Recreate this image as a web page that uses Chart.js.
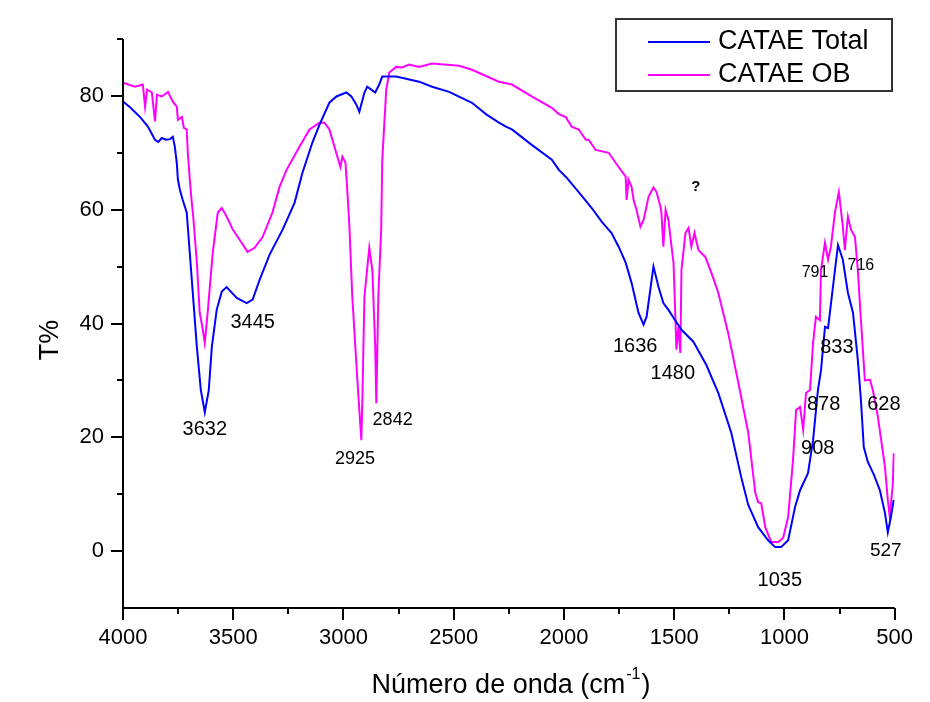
<!DOCTYPE html>
<html>
<head>
<meta charset="utf-8">
<title>CATAE FTIR</title>
<script src="https://cdn.jsdelivr.net/npm/chart.js@4.4.1/dist/chart.umd.min.js"></script>
<style>
    html, body { margin: 0; padding: 0; background: #fff; }
    canvas { display: block; }
</style>
</head>
<body>
<canvas id="ftirChart" width="930" height="702"></canvas>
<script>
// series names
const seriesNames = ['CATAE Total', 'CATAE OB'];

// CATAE Total (blue) - wavenumber / transmittance
const totalWavenumber = [4000, 3968, 3923, 3887, 3855, 3840, 3824, 3805, 3787, 3774, 3765, 3756, 3751, 3742, 3729, 3711, 3706, 3688, 3665, 3647,
    3629, 3611, 3597, 3575, 3552, 3530, 3484, 3439, 3412, 3380, 3335, 3276, 3222, 3186, 3141, 3109, 3064, 3032, 2987, 2964,
    2942, 2928, 2905, 2892, 2874, 2856, 2838, 2824, 2761, 2657, 2598, 2521, 2417, 2354, 2295, 2263, 2236, 2146, 2055, 2023,
    1992, 1933, 1874, 1829, 1784, 1752, 1720, 1693, 1662, 1639, 1625, 1594, 1571, 1549, 1526, 1503, 1467, 1413, 1354, 1300,
    1241, 1196, 1164, 1119, 1074, 1042, 1015, 983, 952, 929, 893, 870, 848, 834, 816, 802, 780, 757, 735, 712,
    689, 667, 653, 640, 622, 594, 567, 544, 531, 517, 504];
const totalT = [79.0, 78.0, 76.3, 74.6, 72.3, 71.9, 72.6, 72.3, 72.4, 72.8, 71.1, 68.2, 65.3, 63.5, 61.7, 59.5, 57.0, 47.7, 35.9, 28.3,
    24.4, 28.3, 35.9, 42.4, 45.6, 46.4, 44.5, 43.6, 44.2, 47.7, 52.1, 56.5, 61.2, 66.5, 71.8, 74.9, 78.8, 79.9, 80.6, 79.9,
    78.5, 77.2, 80.6, 81.6, 81.1, 80.6, 82.0, 83.4, 83.4, 82.5, 81.6, 80.7, 78.8, 76.8, 75.3, 74.6, 74.1, 71.4, 68.8, 67.0,
    65.8, 63.1, 60.3, 57.9, 55.9, 53.5, 50.7, 47.1, 41.9, 39.8, 41.2, 50.0, 46.4, 43.6, 42.4, 41.0, 38.9, 36.8, 32.7, 27.8,
    20.8, 13.0, 8.1, 4.2, 1.9, 0.7, 0.7, 1.9, 7.7, 10.7, 13.7, 19.5, 28.3, 31.8, 39.4, 39.2, 46.4, 53.8, 51.2, 45.4,
    41.9, 33.6, 26.6, 18.3, 15.7, 13.4, 10.7, 6.7, 3.3, 6.0, 9.0];

// CATAE OB (magenta) - wavenumber / transmittance
const obWavenumber = [4000, 3946, 3910, 3900, 3891, 3869, 3855, 3846, 3824, 3796, 3774, 3756, 3751, 3733, 3724, 3711, 3706, 3697, 3688, 3683,
    3665, 3652, 3638, 3629, 3616, 3593, 3570, 3552, 3530, 3502, 3462, 3435, 3403, 3367, 3322, 3290, 3258, 3199, 3154, 3109,
    3086, 3064, 3041, 3014, 3005, 2991, 2982, 2973, 2960, 2937, 2919, 2914, 2905, 2883, 2869, 2856, 2851, 2842, 2829, 2824,
    2806, 2792, 2761, 2734, 2702, 2657, 2598, 2476, 2417, 2295, 2236, 2146, 2055, 2023, 1992, 1965, 1933, 1901, 1888, 1856,
    1797, 1752, 1720, 1716, 1707, 1693, 1684, 1671, 1653, 1639, 1616, 1594, 1580, 1562, 1558, 1549, 1539, 1526, 1512, 1503,
    1494, 1490, 1481, 1472, 1467, 1449, 1435, 1422, 1408, 1390, 1359, 1331, 1300, 1255, 1209, 1164, 1132, 1119, 1105, 1087,
    1060, 1028, 1006, 983, 961, 947, 929, 915, 902, 884, 870, 857, 839, 834, 816, 802, 789, 771, 753, 735,
    726, 712, 698, 680, 667, 653, 635, 612, 599, 576, 544, 531, 522, 508, 504];
const obT = [82.3, 81.6, 82.0, 78.1, 81.1, 80.6, 75.5, 80.2, 79.9, 80.7, 79.0, 78.1, 75.8, 76.3, 74.4, 74.1, 70.0, 65.3, 61.2, 59.5,
    50.7, 41.9, 38.9, 36.6, 41.9, 52.4, 59.5, 60.3, 58.8, 56.5, 54.2, 52.6, 53.3, 55.2, 59.5, 64.0, 67.0, 71.1, 74.1, 75.3,
    75.3, 74.1, 71.1, 67.5, 69.3, 68.3, 63.0, 57.0, 44.7, 30.1, 19.5, 27.1, 44.7, 53.3, 49.4, 35.9, 26.0, 44.7, 56.5, 68.8,
    81.1, 84.1, 85.1, 85.0, 85.5, 85.1, 85.7, 85.3, 84.6, 82.5, 82.0, 79.9, 77.9, 76.8, 76.3, 74.6, 74.1, 72.3, 72.3, 70.5,
    70.0, 67.5, 65.8, 61.7, 65.3, 64.0, 61.7, 60.0, 57.0, 58.2, 62.3, 63.9, 63.1, 60.5, 59.5, 53.5, 60.0, 58.2, 53.5, 50.7,
    40.6, 35.4, 39.4, 34.8, 49.4, 55.9, 56.8, 53.5, 55.9, 52.9, 51.7, 48.9, 45.4, 38.3, 29.6, 20.8, 10.2, 8.6, 8.4, 4.2,
    1.6, 1.6, 2.3, 6.0, 16.0, 24.8, 25.3, 21.3, 27.8, 28.3, 36.6, 41.2, 40.6, 49.4, 54.2, 51.2, 53.5, 59.5, 63.1, 57.0,
    52.9, 58.8, 56.5, 55.2, 49.4, 40.6, 30.0, 30.1, 28.3, 23.6, 14.8, 9.0, 6.0, 12.0, 17.2];

// peak annotations (text, wavenumber, T%)
const peakLabels = ['3632', '3445', '2925', '2842', '1636', '1480', '?', '791', '716', '833', '878', '908', '628', '527', '1035'];
const peakX = [3629, 3412, 2948, 2777, 1677, 1506, 1402, 861, 653, 762, 822, 849, 549, 540, 1021];
const peakY = [21.3, 40.2, 16.2, 23.1, 35.9, 31.3, 64.1, 49.0, 50.2, 35.7, 25.8, 18.1, 25.8, 0.1, -5.1];

// axis ticks
const xTickValues = [4000, 3500, 3000, 2500, 2000, 1500, 1000, 500];
const yTickValues = [0, 20, 40, 60, 80];

const FONT = '"Liberation Sans", Arial, Helvetica, sans-serif';
const seriesColors = ['#0000ff', '#ff00ff'];

function toPoints(xs, ys) {
    return xs.map((x, i) => ({ x: x, y: ys[i] }));
}

// axes, ticks, titles, notes and legend
const decorations = {
    id: 'decorations',
    afterDraw(chart) {
        const ctx = chart.ctx;
        const xs = chart.scales.x;
        const ys = chart.scales.y;
        const area = chart.chartArea;
        ctx.save();
        ctx.strokeStyle = '#000';
        ctx.lineWidth = 2;
        ctx.beginPath();
        ctx.moveTo(area.left, area.top);
        ctx.lineTo(area.left, area.bottom + 1);
        ctx.moveTo(area.left - 1, area.bottom);
        ctx.lineTo(area.right, area.bottom);
        // y ticks (major every 20, minor between)
        for (let v = 0; v <= 90; v += 10) {
            const py = Math.round(ys.getPixelForValue(v));
            const len = yTickValues.includes(v) ? 12 : 6;
            ctx.moveTo(area.left - len, py);
            ctx.lineTo(area.left, py);
        }
        // x ticks (major every 500, minor every 250)
        for (let v = 500; v <= 4000; v += 250) {
            const px = Math.round(xs.getPixelForValue(v));
            const len = xTickValues.includes(v) ? 12 : 6;
            ctx.moveTo(px, area.bottom);
            ctx.lineTo(px, area.bottom + len);
        }
        ctx.stroke();

        // axis titles
        ctx.fillStyle = '#000';
        ctx.textBaseline = 'middle';
        ctx.textAlign = 'center';
        ctx.save();
        ctx.translate(51, 340);
        ctx.rotate(-Math.PI / 2);
        ctx.font = '27px ' + FONT;
        ctx.fillText('T%', 0, 0);
        ctx.restore();

        const t1 = 'Número de onda (cm';
        const sup = '-1';
        const t3 = ')';
        ctx.font = '27px ' + FONT;
        const w1 = ctx.measureText(t1).width;
        const w3 = ctx.measureText(t3).width;
        ctx.font = '16px ' + FONT;
        const ws = ctx.measureText(sup).width;
        let tx = 510 - (w1 + ws + w3) / 2;
        ctx.textAlign = 'left';
        ctx.font = '27px ' + FONT;
        ctx.fillText(t1, tx, 686);
        ctx.font = '16px ' + FONT;
        ctx.fillText(sup, tx + w1 + 1, 675);
        ctx.font = '27px ' + FONT;
        ctx.fillText(t3, tx + w1 + ws + 2, 686);

        // peak notes
        const sizes = { '2925': 18, '2842': 18, '791': 16, '716': 16, '527': 19 };
        ctx.textAlign = 'center';
        peakLabels.forEach((label, i) => {
            const px = xs.getPixelForValue(peakX[i]);
            const py = ys.getPixelForValue(peakY[i]);
            if (label === '?') {
                ctx.font = 'bold 15px ' + FONT;
            } else {
                ctx.font = (sizes[label] || 20) + 'px ' + FONT;
            }
            ctx.fillText(label, px, py);
        });

        // legend box
        ctx.lineWidth = 2;
        ctx.strokeStyle = '#333';
        ctx.strokeRect(616, 19, 276, 72);
        ctx.textAlign = 'left';
        ctx.font = '27px ' + FONT;
        chart.data.datasets.forEach((ds, i) => {
            const ly = 42 + i * 33;
            ctx.strokeStyle = ds.borderColor;
            ctx.lineWidth = 2;
            ctx.beginPath();
            ctx.moveTo(648, ly);
            ctx.lineTo(710, ly);
            ctx.stroke();
            ctx.fillStyle = '#000';
            ctx.fillText(ds.label, 718, ly);
        });
        ctx.restore();
    }
};

const ctx = document.getElementById('ftirChart').getContext('2d');
const ftirChart = new Chart(ctx, {
    type: 'line',
    data: {
        datasets: [{
            label: seriesNames[0],
            data: toPoints(totalWavenumber, totalT),
            borderColor: seriesColors[0],
            borderWidth: 2,
            pointRadius: 0,
            fill: false
        },
        {
            label: seriesNames[1],
            data: toPoints(obWavenumber, obT),
            borderColor: seriesColors[1],
            borderWidth: 2,
            pointRadius: 0,
            fill: false
        }]
    },
    options: {
        responsive: false,
        animation: false,
        devicePixelRatio: 1,
        layout: { padding: { top: 39, right: 33, bottom: 0, left: 0 } },
        plugins: {
            legend: { display: false },
            tooltip: { enabled: false }
        },
        scales: {
            x: {
                type: 'linear',
                reverse: true,
                min: 500,
                max: 4000,
                grid: { display: false, drawTicks: false },
                border: { display: false },
                ticks: {
                    stepSize: 500,
                    autoSkip: false,
                    maxRotation: 0,
                    padding: 17,
                    color: '#000',
                    font: { family: FONT, size: 22 },
                    callback: v => xTickValues.includes(v) ? String(v) : ''
                },
                afterFit: scale => { scale.height = 94; }
            },
            y: {
                min: -10,
                max: 90,
                grid: { display: false, drawTicks: false },
                border: { display: false },
                ticks: {
                    stepSize: 10,
                    autoSkip: false,
                    padding: 19,
                    color: '#000',
                    font: { family: FONT, size: 22 },
                    callback: v => yTickValues.includes(v) ? String(v) : ''
                },
                afterFit: scale => { scale.width = 123; }
            }
        }
    },
    plugins: [decorations]
});
</script>
</body>
</html>
